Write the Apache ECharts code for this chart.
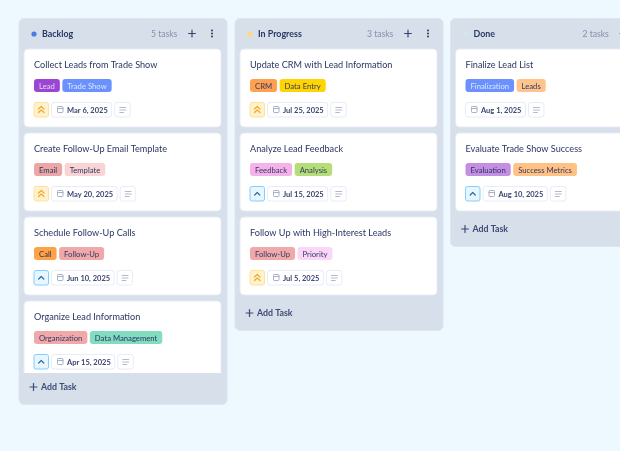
<!DOCTYPE html>
<html>
<head>
<meta charset="utf-8">
<style>html,body{margin:0;padding:0;background:#eef8ff}#main{width:620px;height:451px}</style>
<script src="https://cdn.jsdelivr.net/npm/echarts@6/dist/echarts.min.js"></script>
</head>
<body>
<div id="main"></div>
<script>
var columnNames = ['Backlog', 'In Progress', 'Done'];
var taskCounts = ['5 tasks', '3 tasks', '2 tasks'];

var backlogTitles = ['Collect Leads from Trade Show', 'Create Follow-Up Email Template', 'Schedule Follow-Up Calls', 'Organize Lead Information'];
var backlogTags = [['Lead', 'Trade Show'], ['Email', 'Template'], ['Call', 'Follow-Up'], ['Organization', 'Data Management']];
var backlogDates = ['Mar 6, 2025', 'May 20, 2025', 'Jun 10, 2025', 'Apr 15, 2025'];
var backlogPriority = ['high', 'high', 'medium', 'medium'];

var progressTitles = ['Update CRM with Lead Information', 'Analyze Lead Feedback', 'Follow Up with High-Interest Leads'];
var progressTags = [['CRM', 'Data Entry'], ['Feedback', 'Analysis'], ['Follow-Up', 'Priority']];
var progressDates = ['Jul 25, 2025', 'Jul 15, 2025', 'Jul 5, 2025'];
var progressPriority = ['high', 'medium', 'high'];

var doneTitles = ['Finalize Lead List', 'Evaluate Trade Show Success'];
var doneTags = [['Finalization', 'Leads'], ['Evaluation', 'Success Metrics']];
var doneDates = ['Aug 1, 2025', 'Aug 10, 2025'];
var donePriority = ['none', 'medium'];

// tag fill, tag text
var tagStyles = {
    'Lead': ['#9a46d2', '#e6d4f5'], 'Trade Show': ['#6b91ff', '#dce6ff'],
    'Email': ['#eda6a6', '#2a3560'], 'Template': ['#fad3d3', '#2f3a66'],
    'Call': ['#ffa246', '#2a3560'], 'Follow-Up': ['#f0a8a8', '#2f3a66'],
    'Organization': ['#f0a8a8', '#2f3a66'], 'Data Management': ['#82dcc0', '#2a3560'],
    'CRM': ['#ff9f50', '#2f3a66'], 'Data Entry': ['#ffd400', '#2f3a66'],
    'Feedback': ['#f5b1e8', '#2f3a66'], 'Analysis': ['#b6de78', '#2f3a66'],
    'Priority': ['#fbd6f6', '#2f3a66'], 'Finalization': ['#6b91ff', '#dce6ff'],
    'Leads': ['#ffc48c', '#2f3a66'], 'Evaluation': ['#c48fe2', '#2a3560'],
    'Success Metrics': ['#ffc184', '#2f3a66']
};

var columns = [
    {x: 19, bottom: 404.5, dot: '#4a7ce6', titles: backlogTitles, tags: backlogTags, dates: backlogDates, priority: backlogPriority, clip: 373},
    {x: 235, bottom: 330.5, dot: '#ffd97f', titles: progressTitles, tags: progressTags, dates: progressDates, priority: progressPriority},
    {x: 450.5, bottom: 246.5, dot: '#d3e6ea', titles: doneTitles, tags: doneTags, dates: doneDates, priority: donePriority}
];

var FONT = 'Lato, sans-serif';
var INK = '#2c3763';
var measure = document.createElement('canvas').getContext('2d');
function textWidth(str, font) {
    measure.font = font;
    return measure.measureText(str).width;
}

var els = [];
function box(x, y, w, h, r, fill, stroke) {
    els.push({type: 'rect', silent: true, shape: {x: x, y: y, width: w, height: h, r: r},
        style: {fill: fill, stroke: stroke || null, lineWidth: stroke ? 1 : 0}});
}
function label(x, y, str, font, fill) {
    els.push({type: 'text', silent: true, style: {x: x, y: y, text: str, font: font, fill: fill, align: 'left', verticalAlign: 'middle'}});
}
function line(points, stroke, width) {
    els.push({type: 'polyline', silent: true, shape: {points: points},
        style: {fill: null, stroke: stroke, lineWidth: width || 1, lineCap: 'round', lineJoin: 'round'}});
}
function plus(cx, cy, size, stroke) {
    line([[cx - size, cy], [cx + size, cy]], stroke, 1.2);
    line([[cx, cy - size], [cx, cy + size]], stroke, 1.2);
}

function drawCard(col, i) {
    var cx = col.x + 5, top = 49 + i * 84, left = col.x + 15;
    box(cx, top, 197, 78, 4, '#ffffff', '#e6ecf6');
    label(left, top + 16.3, col.titles[i], '400 9.15px ' + FONT, INK);

    var tagX = left;
    col.tags[i].forEach(function (t) {
        var f = '400 7.7px ' + FONT;
        var w = textWidth(t, f) + 10;
        box(tagX, top + 30, w, 13, 3, tagStyles[t][0]);
        label(tagX + 5, top + 37.2, t, f, tagStyles[t][1]);
        tagX += w + 2.5;
    });

    var bx = left, by = top + 53.5;
    var p = col.priority[i];
    if (p === 'high') {
        box(bx, by, 14.5, 14.5, 2, '#fff3cf', '#ffe29a');
        line([[bx + 4.5, by + 6.5], [bx + 7.2, by + 4], [bx + 10, by + 6.5]], '#f5a623', 1.2);
        line([[bx + 4.5, by + 10], [bx + 7.2, by + 7.5], [bx + 10, by + 10]], '#f5a623', 1.2);
    } else if (p === 'medium') {
        box(bx, by, 14.5, 14.5, 2, '#e8f6ff', '#7fd0ff');
        line([[bx + 4.7, by + 8.5], [bx + 7.2, by + 6], [bx + 9.8, by + 8.5]], '#2a6f9e', 1.2);
    }
    if (p !== 'none') {
        bx += 17.5;
    }
    var dateFont = '700 7.5px ' + FONT;
    var dw = textWidth(col.dates[i], dateFont) + 19.5;
    box(bx, by, dw, 14.5, 2.5, '#ffffff', '#e8ecf7');
    // calendar icon
    box(bx + 6, by + 4, 5.5, 6, 0.8, '#ffffff', '#a9b0c6');
    line([[bx + 6, by + 6], [bx + 11.5, by + 6]], '#a9b0c6', 1);
    label(bx + 15.5, by + 7.9, col.dates[i], dateFont, '#3a4570');

    bx += dw + 3;
    box(bx, by, 15.5, 14.5, 2.5, '#ffffff', '#e8ecf7');
    line([[bx + 5, by + 5], [bx + 11, by + 5]], '#b4bace', 1);
    line([[bx + 5, by + 7.5], [bx + 11, by + 7.5]], '#b4bace', 1);
    line([[bx + 5, by + 10], [bx + 9, by + 10]], '#b4bace', 1);
}

columns.forEach(function (col, c) {
    var x = col.x;
    box(x, 18.5, 208, col.bottom - 18.5, 5, '#d6dfea', '#dde5ef');
    els.push({type: 'circle', silent: true, shape: {cx: x + 15, cy: 34, r: 2.6}, style: {fill: col.dot}});
    label(x + 23, 34.2, columnNames[c], '700 8.9px ' + FONT, INK);
    label(x + 132, 34.2, taskCounts[c], '400 8.6px ' + FONT, '#8790ad');
    plus(x + 173, 33.5, 3.4, '#3a4570');
    [30.5, 33.5, 36.5].forEach(function (dy) {
        els.push({type: 'circle', silent: true, shape: {cx: x + 193, cy: dy, r: 1.05}, style: {fill: '#3a4570'}});
    });

    col.titles.forEach(function (t, i) {
        drawCard(col, i);
    });

    // list area ends above the footer, cards running past it get cut
    if (col.clip) {
        box(x + 1, col.clip, 206, 12, 0, '#d6dfea');
    }
    var footY = col.bottom - 17.5;
    plus(x + 14.5, footY, 3.4, '#3f4a75');
    label(x + 22, footY + 0.4, 'Add Task', '700 8.8px ' + FONT, '#3f4a75');
});

var chart = echarts.init(document.getElementById('main'));
chart.setOption({
    backgroundColor: '#eef8ff',
    animation: false,
    graphic: {elements: els}
});
</script>
</body>
</html>
